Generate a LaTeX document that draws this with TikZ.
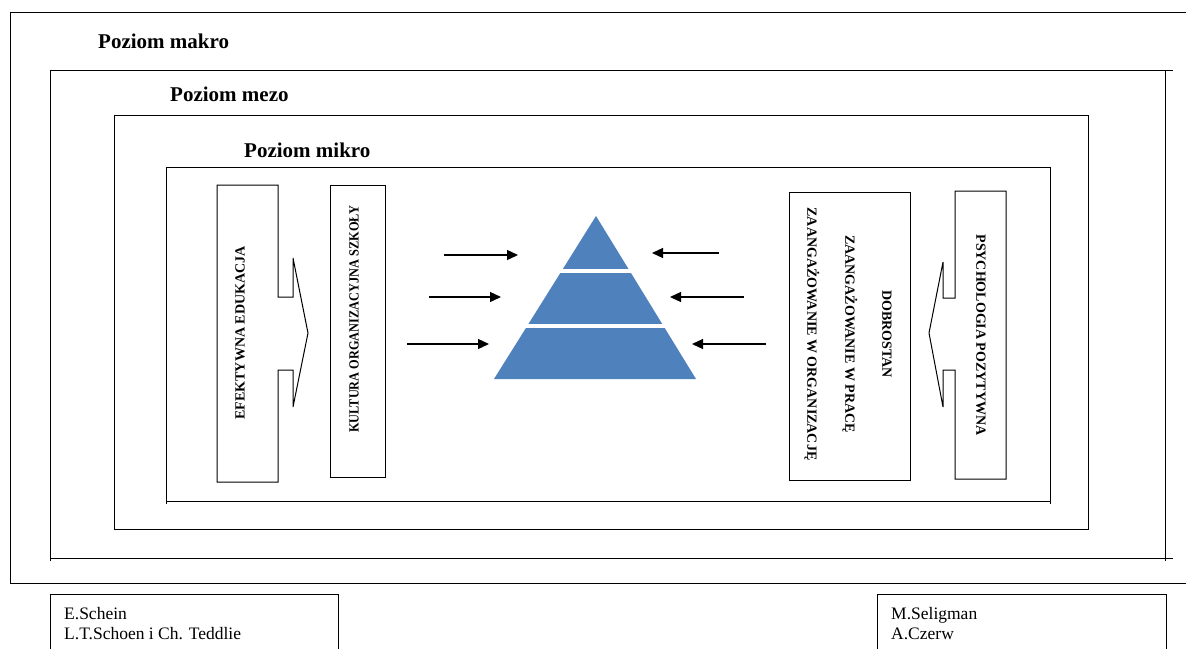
\documentclass[tikz,border=0pt]{standalone}
\usepackage{fontspec}
\setmainfont{Liberation Serif}
\usetikzlibrary{arrows.meta}
\definecolor{pyrblue}{HTML}{4F81BD}
\begin{document}
\begin{tikzpicture}[x=1pt,y=-1pt,
  frame/.style={draw=black,line width=1pt},
  lbl/.style={font=\fontsize{21}{25}\selectfont\bfseries, anchor=base west, inner sep=0pt},
  vtxt/.style={font=\fontsize{14}{16}\selectfont\bfseries, inner sep=0pt},
  reftxt/.style={font=\fontsize{17.5}{20}\selectfont, anchor=base west, inner sep=0pt},
  arr/.style={line width=1.3pt, -{Triangle[length=11pt,width=10pt]}},
  gap/.style={draw=white, line width=3.5pt},
  ]
\useasboundingbox (0,0) rectangle (1186,648);
\clip (0,0) rectangle (1186,648);

% frames
\draw[frame] (1190,12) -- (10,12) -- (10,583) -- (1190,583);
\draw[frame] (50,561) -- (50,70) -- (1173,70);
\draw[frame] (50,558) -- (1173,558);
\draw[frame] (1165,70) -- (1165,561);
\draw[frame] (114,115) rectangle (1088,529);
\draw[frame] (166,504) -- (166,167) -- (1050,167) -- (1050,504);
\draw[frame] (166,501) -- (1050,501);

% level labels
\node[lbl] (makro) at (98,48) {Poziom makro};
\node[lbl] (mezo) at (170,101) {Poziom mezo};
\node[lbl] (mikro) at (244,157) {Poziom mikro};

% left arrow-box
\draw[frame] (217,185) -- (278,185) -- (278,297) -- (293,297) -- (293,258) -- (308,333)
  -- (293,407) -- (293,370) -- (278,370) -- (278,482) -- (217,482) -- cycle;
\node[vtxt, rotate=90] (efekt) at (240,333) {EFEKTYWNA EDUKACJA};

% kultura box
\draw[frame] (330,185) rectangle (385,477);
\node[vtxt, rotate=90] (kult) at (354,319) {\scalebox{0.88}[1]{KULTURA ORGANIZACYJNA SZKOŁY}};

% dobrostan box
\draw[frame] (789,192) rectangle (910,480);
\node[vtxt, rotate=-90] (dobro) at (887,334) {DOBROSTAN};
\node[vtxt, rotate=-90] (praca) at (850,334) {ZAANGAŻOWANIE W PRACĘ};
\node[vtxt, rotate=-90] (organ) at (812,334) {ZAANGAŻOWANIE W ORGANIZACJĘ};

% right arrow-box
\draw[frame] (955,191) -- (1006,191) -- (1006,479) -- (955,479) -- (955,370) -- (943,370)
  -- (943,407) -- (929,333) -- (943,262) -- (943,298) -- (955,298) -- cycle;
\node[vtxt, rotate=-90] (psych) at (981,335) {PSYCHOLOGIA POZYTYWNA};

% pyramid
\fill[pyrblue] (494,379) -- (596,216) -- (696,379) -- cycle;
\draw[gap] (540,271) -- (650,271);
\draw[gap] (500,326) -- (690,326);

% arrows
\coordinate (a1s) at (444,255); \coordinate (a1e) at (518,255);
\coordinate (a2s) at (429,297); \coordinate (a2e) at (501,297);
\coordinate (a3s) at (407,344); \coordinate (a3e) at (489,344);
\coordinate (b1s) at (719,253); \coordinate (b1e) at (652,253);
\coordinate (b2s) at (744,297); \coordinate (b2e) at (670,297);
\coordinate (b3s) at (766,344); \coordinate (b3e) at (692,344);
\draw[arr] (a1s) -- (a1e);
\draw[arr] (a2s) -- (a2e);
\draw[arr] (a3s) -- (a3e);
\draw[arr] (b1s) -- (b1e);
\draw[arr] (b2s) -- (b2e);
\draw[arr] (b3s) -- (b3e);

% reference boxes
\draw[frame] (50,660) -- (50,594) -- (338,594) -- (338,660);
\draw[frame] (877,660) -- (877,594) -- (1166,594) -- (1166,660);
\node[reftxt] (schein) at (64,619) {E.Schein};
\node[reftxt] (schoen) at (64,639) {L.T.Schoen i Ch. Teddlie};
\node[reftxt] (selig) at (891,619) {M.Seligman};
\node[reftxt] (czerw) at (891,639) {A.Czerw};
\end{tikzpicture}
\end{document}
